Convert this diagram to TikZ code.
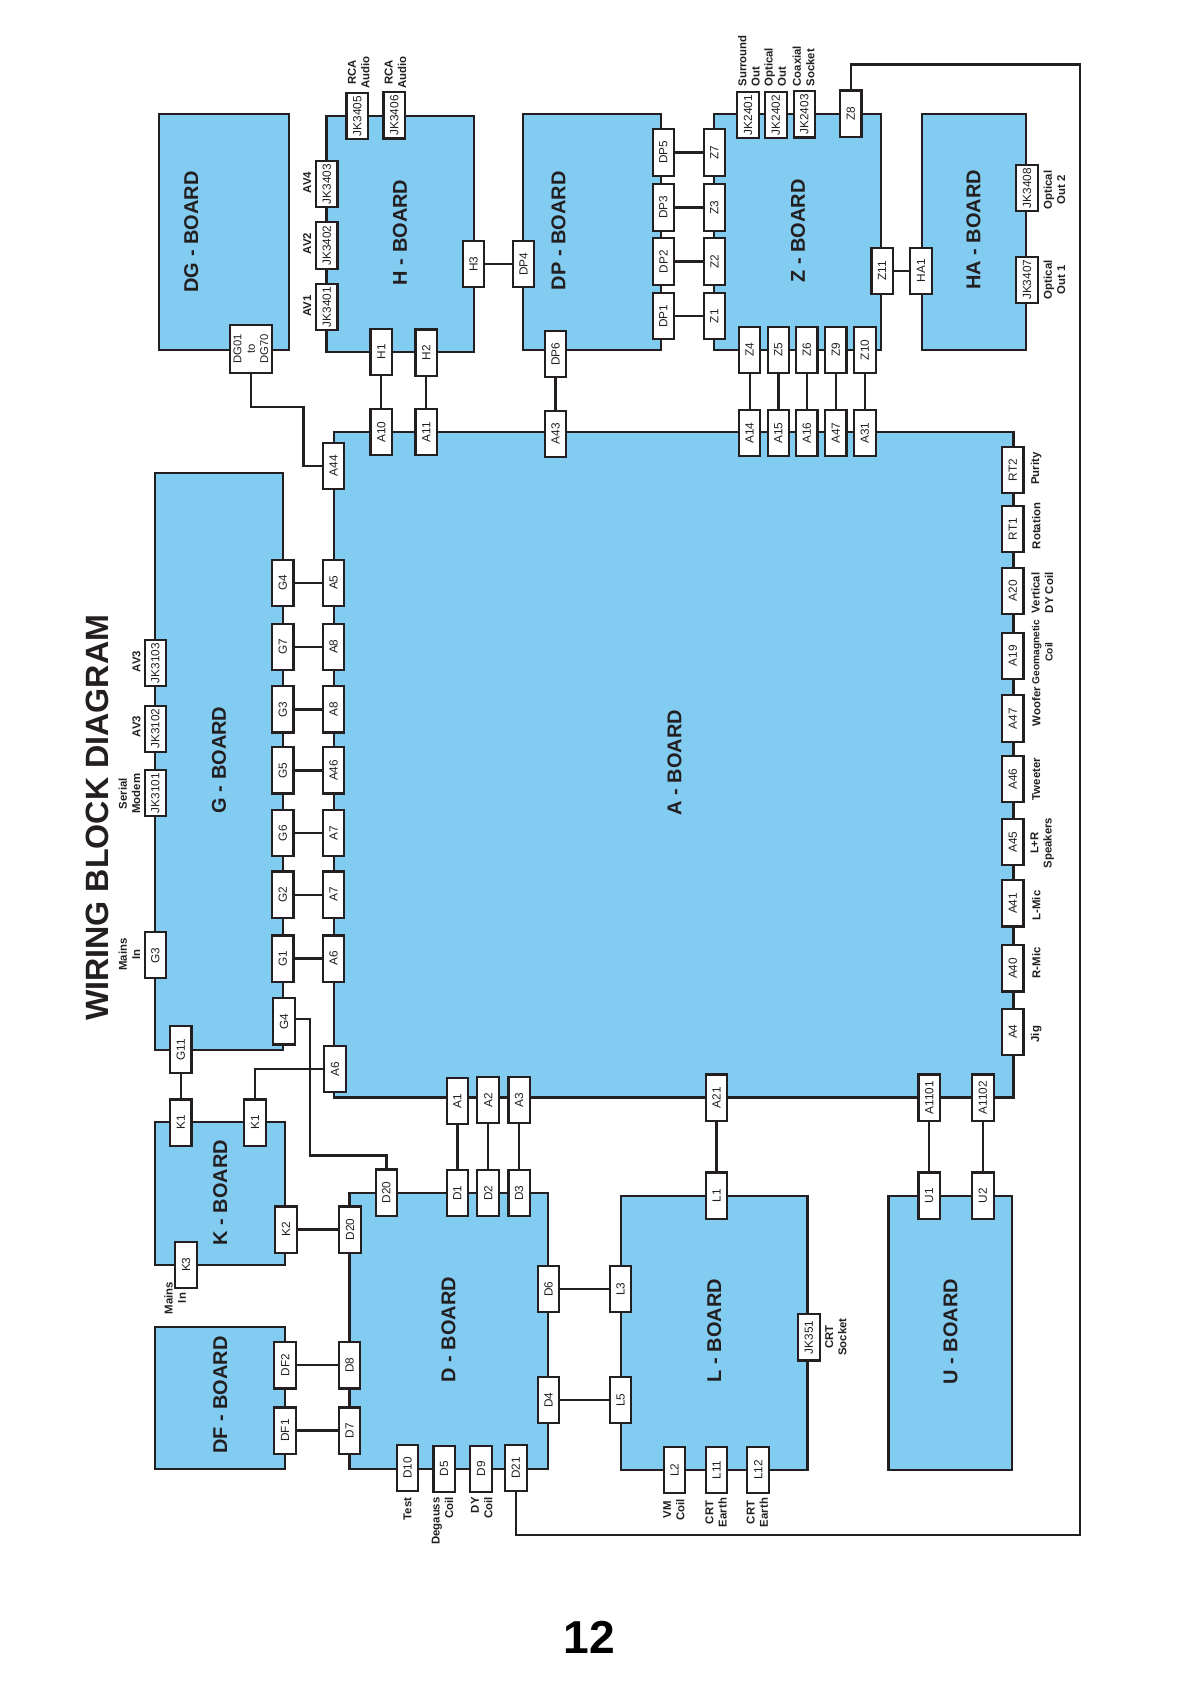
\documentclass[tikz,border=0pt]{standalone}
\usepackage{fontspec}
\setmainfont{Liberation Sans}
\usetikzlibrary{fit}
\definecolor{boardblue}{RGB}{130,204,242}
\definecolor{inkline}{RGB}{35,31,32}
\tikzset{
  board/.style={draw=inkline,fill=boardblue,line width=2pt,inner sep=0pt,outer sep=0pt},
  boardlabel/.style={rotate=90,inner sep=0pt,text=inkline,font=\fontsize{18.6}{20}\selectfont\bfseries},
  port/.style={draw=inkline,fill=white,line width=2pt,rotate=90,minimum width=43pt,minimum height=20pt,inner sep=0pt,text=inkline,font=\fontsize{11}{12.6}\selectfont},
  note/.style={rotate=90,inner sep=0pt,text=inkline,align=center,font=\fontsize{10.6}{12.4}\selectfont\bfseries},
  wire/.style={draw=inkline,line width=2.1pt},
}
\begin{document}
\begin{tikzpicture}[x=1pt,y=-1pt]
\useasboundingbox (0,0) rectangle (1098,1568);
% Boards
\node[board,fit={(148,106)(268.7,326)}] (dg) {};
\node[board,fit={(304,108)(441,327.8)}] (h) {};
\node[board,fit={(486.9,106.5)(615.3,326)}] (dp) {};
\node[board,fit={(665,106.5)(820.2,326)}] (z) {};
\node[board,fit={(858.4,106.5)(955.2,326)}] (ha) {};
\node[board,fit={(144.5,440.8)(263.8,977.5)}] (g) {};
\node[board,fit={(311,402.6)(943.7,1021.9)}] (a) {};
\node[board,fit={(144.7,1045)(265.5,1178)}] (k) {};
\node[board,fit={(144.7,1235.5)(265.5,1367.7)}] (df) {};
\node[board,fit={(325.4,1111)(510,1367.7)}] (d) {};
\node[board,fit={(577.9,1113.4)(751.8,1369)}] (l) {};
\node[board,fit={(827.3,1113.4)(942.4,1369)}] (u) {};
% Board labels
\node[boardlabel] (ldg) at (178,216) {DG - BOARD};
\node[boardlabel] (lh) at (372.5,216.4) {H - BOARD};
\node[boardlabel] (ldp) at (520,215) {DP - BOARD};
\node[boardlabel] (lz) at (743,215) {Z - BOARD};
\node[boardlabel] (lha) at (906.5,214) {HA - BOARD};
\node[boardlabel] (lg) at (204,707.5) {G - BOARD};
\node[boardlabel] (la) at (628,710) {A - BOARD};
\node[boardlabel] (lk) at (205,1110.4) {K - BOARD};
\node[boardlabel] (ldf) at (205,1299) {DF - BOARD};
\node[boardlabel] (ld) at (417.6,1238) {D - BOARD};
\node[boardlabel] (ll) at (665,1239) {L - BOARD};
\node[boardlabel] (lu) at (885,1240) {U - BOARD};
% Ports
\node[port,minimum width=45pt,minimum height=39pt,align=center,font=\fontsize{10.5}{12.4}\selectfont] (dg01) at (233.6,325) {DG01\\to\\DG70};
\node[port] (jk3405) at (332.6,108.3) {JK3405};
\node[port] (jk3406) at (367.1,107.5) {JK3406};
\node[port] (jk3403) at (304.2,171.6) {JK3403};
\node[port] (jk3402) at (304.2,228.6) {JK3402};
\node[port] (jk3401) at (304.2,286) {JK3401};
\node[port] (h3) at (441,246) {H3};
\node[port] (dp4) at (487.4,246) {DP4};
\node[port] (h1) at (355,327.7) {H1};
\node[port] (h2) at (396.9,328.3) {H2};
\node[port] (dp6) at (517.3,329.8) {DP6};
\node[port] (a10) at (355,402.5) {A10};
\node[port] (a11) at (396.9,402.5) {A11};
\node[port] (a43) at (517.3,404) {A43};
\node[port] (a44) at (310.5,433.8) {A44};
\node[port] (dp5) at (617.7,142) {DP5};
\node[port] (dp3) at (617.7,193.2) {DP3};
\node[port] (dp2) at (617.7,243.5) {DP2};
\node[port] (dp1) at (617.7,294.5) {DP1};
\node[port] (z7) at (665.2,142) {Z7};
\node[port] (z3) at (665.2,193.2) {Z3};
\node[port] (z2) at (665.2,243.5) {Z2};
\node[port] (z1) at (665.2,294.5) {Z1};
\node[port] (jk2401) at (696.6,107.2) {JK2401};
\node[port] (jk2402) at (722.4,107.2) {JK2402};
\node[port] (jk2403) at (749,106.5) {JK2403};
\node[port] (z8) at (792.2,105.7) {Z8};
\node[port] (jk3408) at (956.2,175.3) {JK3408};
\node[port] (jk3407) at (956.2,260.5) {JK3407};
\node[port] (z11) at (821.4,252.2) {Z11};
\node[port] (ha1) at (857.7,252.2) {HA1};
\node[port] (z4) at (698,325.8) {Z4};
\node[port] (z5) at (724.8,325.8) {Z5};
\node[port] (z6) at (751.2,325.8) {Z6};
\node[port] (z9) at (778.2,325.8) {Z9};
\node[port] (z10) at (805.3,325.8) {Z10};
\node[port] (a14) at (698,403.2) {A14};
\node[port] (a15) at (724.8,403.2) {A15};
\node[port] (a16) at (751.2,403.2) {A16};
\node[port] (a47a) at (778.2,403.2) {A47};
\node[port] (a31) at (805.3,403.2) {A31};
\node[port] (rt2) at (943,437.7) {RT2};
\node[port] (rt1) at (943,492.8) {RT1};
\node[port] (a20) at (943,550.2) {A20};
\node[port] (a19) at (943,610.6) {A19};
\node[port] (a47b) at (943,669) {A47};
\node[port] (a46b) at (943,725.4) {A46};
\node[port] (a45) at (943,784.2) {A45};
\node[port] (a41) at (943,841.2) {A41};
\node[port] (a40) at (943,901.7) {A40};
\node[port] (a4) at (943,960.6) {A4};
\node[port] (g4a) at (263.3,542.6) {G4};
\node[port] (g7) at (263.3,602.2) {G7};
\node[port] (g3a) at (263.3,660.6) {G3};
\node[port] (g5) at (263.3,717.4) {G5};
\node[port] (g6) at (263.3,775.8) {G6};
\node[port] (g2) at (263.3,833) {G2};
\node[port] (g1) at (263.3,892.5) {G1};
\node[port] (g4b) at (264.5,951) {G4};
\node[port] (a5) at (310.6,542.6) {A5};
\node[port] (a8a) at (310.6,602.2) {A8};
\node[port] (a8b) at (310.6,660.6) {A8};
\node[port] (a46a) at (310.6,717.4) {A46};
\node[port] (a7a) at (310.6,775.8) {A7};
\node[port] (a7b) at (310.6,833) {A7};
\node[port] (a6a) at (310.6,892.5) {A6};
\node[port] (a6b) at (312,995.4) {A6};
\node[port] (jk3103) at (144.7,617.6) {JK3103};
\node[port] (jk3102) at (144.7,678.5) {JK3102};
\node[port] (jk3101) at (144.7,738.5) {JK3101};
\node[port] (g3b) at (144.7,889.5) {G3};
\node[port] (g11) at (168.3,977.2) {G11};
\node[port] (k1a) at (168.3,1045.3) {K1};
\node[port] (k1b) at (237.5,1045.3) {K1};
\node[port] (k2) at (266.2,1144.9) {K2};
\node[port] (k3) at (173.2,1177.6) {K3};
\node[port] (d20a) at (326,1144.9) {D20};
\node[port] (d20b) at (359.8,1110.4) {D20};
\node[port] (a1) at (425.9,1025) {A1};
\node[port] (a2) at (454.5,1024.4) {A2};
\node[port] (a3) at (483.4,1024.4) {A3};
\node[port] (d1) at (425.9,1111.1) {D1};
\node[port] (d2) at (454.5,1111) {D2};
\node[port] (d3) at (483.4,1111) {D3};
\node[port] (a21) at (667.2,1022) {A21};
\node[port] (l1) at (667.2,1113.2) {L1};
\node[port] (a1101) at (865.2,1022) {A1101};
\node[port] (u1) at (865.2,1113.2) {U1};
\node[port] (a1102) at (915.2,1022) {A1102};
\node[port] (u2) at (915.2,1113.2) {U2};
\node[port] (d6) at (510.7,1200.2) {D6};
\node[port] (l3) at (577.9,1200.2) {L3};
\node[port] (d4) at (510.7,1303.7) {D4};
\node[port] (l5) at (577.9,1303.7) {L5};
\node[port] (df2) at (265.5,1271.3) {DF2};
\node[port] (d8) at (325.4,1271.3) {D8};
\node[port] (df1) at (265.5,1332) {DF1};
\node[port] (d7) at (325.4,1332) {D7};
\node[port] (d10) at (379.4,1367) {D10};
\node[port] (d5) at (413.6,1367.7) {D5};
\node[port] (d9) at (448,1367.7) {D9};
\node[port] (d21) at (480.3,1367) {D21};
\node[port] (l2) at (628,1368.8) {L2};
\node[port] (l11) at (667.2,1368.8) {L11};
\node[port] (l12) at (705.9,1368.8) {L12};
\node[port] (jk351) at (753.2,1245.2) {JK351};
% Connectors
\foreach \p/\q in {h1/a10,h2/a11,dp6/a43,h3/dp4,dp5/z7,dp3/z3,dp2/z2,dp1/z1,z11/ha1,
  z4/a14,z5/a15,z6/a16,z9/a47a,z10/a31,
  g4a/a5,g7/a8a,g3a/a8b,g5/a46a,g6/a7a,g2/a7b,g1/a6a,
  g11/k1a,k2/d20a,a1/d1,a2/d2,a3/d3,a21/l1,a1101/u1,a1102/u2,
  d6/l3,d4/l5,df2/d8,df1/d7}
  \draw[wire] (\p) -- (\q);
\draw[wire] (dg01.west) |- (282.7,378.7) |- (a44.north);
\draw[wire] (a6b.north) -| (k1b.east);
\draw[wire] ([yshift=2.5pt]g4b.south) -| (288.7,1076) -| (d20b.east);
\draw[wire] (d21.west) |- (1005.5,1429) |- (792.2,60) -- (z8.east);
% Texts
\node[rotate=90,inner sep=0pt,text=inkline,font=\fontsize{30}{32}\selectfont\bfseries] (title) at (90.5,761.5) {WIRING BLOCK DIAGRAM};
\node[inner sep=0pt,text=black,font=\fontsize{43}{46}\selectfont\bfseries] (pageno) at (549,1525) {12};
\node[note] (n1) at (334,67.3) {RCA\\Audio};
\node[note] (n2) at (368.2,67.3) {RCA\\Audio};
\node[note] (n3) at (286,170) {AV4};
\node[note] (n4) at (286,226.6) {AV2};
\node[note] (n5) at (286,285) {AV1};
\node[note,anchor=west,align=left] (n6) at (697.4,80.7) {Surround\\Out};
\node[note,anchor=west,align=left] (n7) at (721.8,80.7) {Optical\\Out};
\node[note,anchor=west,align=left] (n8) at (748.2,80.7) {Coaxial\\Socket};
\node[note] (n9) at (981.7,177) {Optical\\Out 2};
\node[note] (n10) at (981.7,260.5) {Optical\\Out 1};
\node[note] (n11) at (964.8,436.5) {Purity};
\node[note] (n12) at (964.8,489.7) {Rotation};
\node[note] (n13) at (970.5,552) {Vertical\\DY Coil};
\node[note,font=\fontsize{9.5}{12.4}\selectfont\bfseries] (n14) at (970.5,607) {Geomagnetic\\Coil};
\node[note] (n15) at (964.8,658) {Woofer};
\node[note] (n16) at (964.8,725.4) {Tweeter};
\node[note] (n17) at (970.5,785) {L+R\\Speakers};
\node[note] (n18) at (964.8,843) {L-Mic};
\node[note] (n19) at (964.8,896.4) {R-Mic};
\node[note] (n20) at (964.8,963) {Jig};
\node[note] (n21) at (127,616) {AV3};
\node[note] (n22) at (127,676.5) {AV3};
\node[note] (n23) at (120.5,739) {Serial\\Modem};
\node[note] (n24) at (120.5,888.7) {Mains\\In};
\node[note] (n25) at (163,1208.6) {Mains\\In};
\node[note] (n26) at (379.4,1405) {Test};
\node[note,anchor=east,align=right] (n27) at (412,1394) {Degauss\\Coil};
\node[note,anchor=east,align=right] (n28) at (448.6,1394) {DY\\Coil};
\node[note] (n29) at (627.5,1405.6) {VM\\Coil};
\node[note] (n30) at (666.8,1408.3) {CRT\\Earth};
\node[note] (n31) at (705.2,1408.3) {CRT\\Earth};
\node[note] (n32) at (778.3,1245) {CRT\\Socket};
\end{tikzpicture}
\end{document}
